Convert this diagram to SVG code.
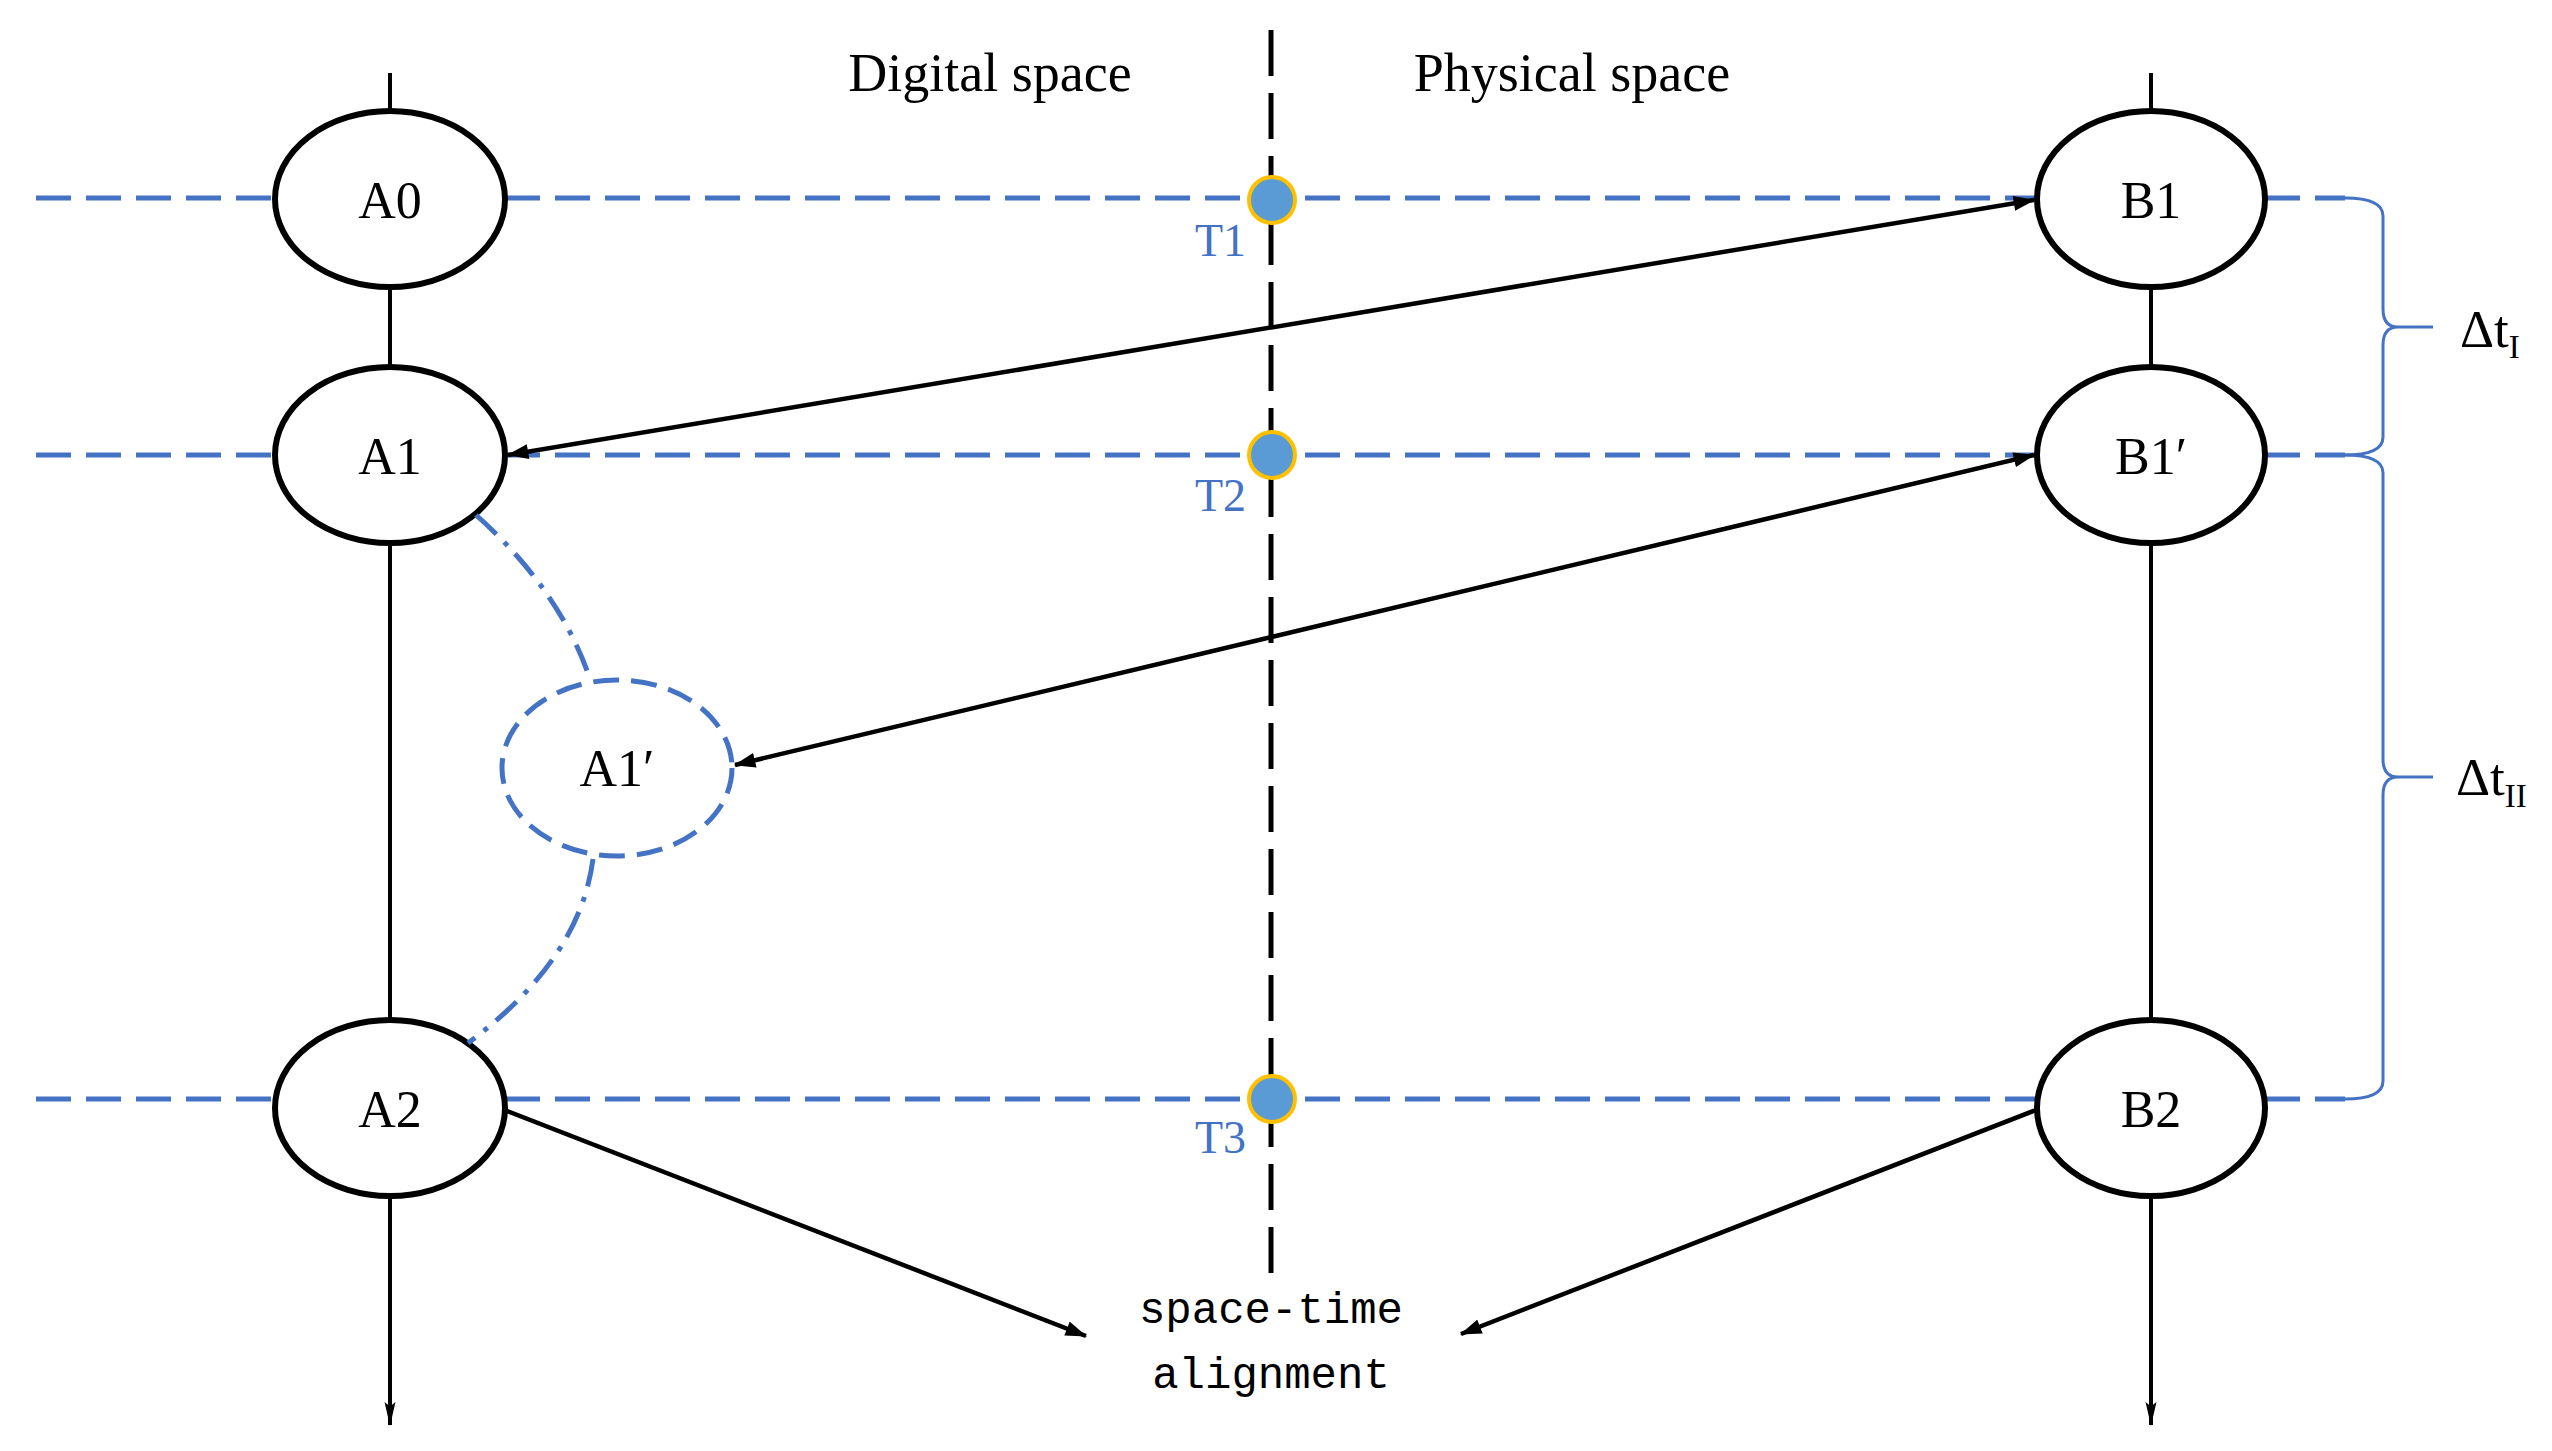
<svg xmlns="http://www.w3.org/2000/svg" width="2552" height="1451" viewBox="0 0 2552 1451">
<style>
.bg{fill:#ffffff}
.hd{stroke:#4472C4;stroke-width:5;stroke-dasharray:35 15;fill:none}
.cl{stroke:#000;stroke-width:5;stroke-dasharray:46 17;fill:none}
.ax{stroke:#000;stroke-width:4;fill:none}
.nd{fill:#fff;stroke:#000;stroke-width:6}
.nd2{fill:#fff;stroke:#4472C4;stroke-width:5;stroke-dasharray:26 12}
.dd{stroke:#4472C4;stroke-width:5;stroke-dasharray:28 11 5 11;fill:none}
.ar{stroke:#000;stroke-width:4.5;fill:none}
.dot{fill:#5B9BD5;stroke:#FFC000;stroke-width:4}
.br{stroke:#4472C4;stroke-width:3;fill:none}
.lb{font-family:"Liberation Serif","Times New Roman",serif;font-size:52px;fill:#000;text-anchor:middle}
.tl{font-family:"Liberation Serif","Times New Roman",serif;font-size:46px;fill:#4472C4;text-anchor:end}
.dt{font-family:"Liberation Serif","Times New Roman",serif;font-size:53px;fill:#000}
.mo{font-family:"Liberation Mono","DejaVu Sans Mono",monospace;font-size:44px;fill:#000;text-anchor:middle}
</style>
<defs>
<marker id="ah" viewBox="0 0 20 14" refX="19" refY="7" markerWidth="22" markerHeight="15" markerUnits="userSpaceOnUse" orient="auto-start-reverse"><path d="M0,0 L20,7 L0,14 z" fill="#000"/></marker>
<marker id="av" viewBox="0 0 22 10" refX="21" refY="5" markerWidth="24" markerHeight="12" markerUnits="userSpaceOnUse" orient="auto"><path d="M0,0 L22,5 L0,10 L4,5 z" fill="#000"/></marker>
</defs>
<rect class="bg" x="0" y="0" width="2552" height="1451"/>

<g id="guides">
<line class="hd" x1="36" y1="198" x2="276" y2="198"/>
<line class="hd" x1="505" y1="198" x2="2037" y2="198"/>
<line class="hd" x1="2265" y1="198" x2="2345" y2="198"/>
<line class="hd" x1="36" y1="455" x2="276" y2="455"/>
<line class="hd" x1="505" y1="455" x2="2037" y2="455"/>
<line class="hd" x1="2265" y1="455" x2="2345" y2="455"/>
<line class="hd" x1="36" y1="1099" x2="276" y2="1099"/>
<line class="hd" x1="505" y1="1099" x2="2037" y2="1099"/>
<line class="hd" x1="2265" y1="1099" x2="2345" y2="1099"/>
<line class="cl" x1="1271" y1="30" x2="1271" y2="1286"/>
</g>

<g id="timelines">
<line class="ax" x1="390" y1="73" x2="390" y2="111"/>
<line class="ax" x1="390" y1="287" x2="390" y2="367"/>
<line class="ax" x1="390" y1="543" x2="390" y2="1020"/>
<line class="ax" x1="390" y1="1196" x2="390" y2="1425" marker-end="url(#av)"/>
<line class="ax" x1="2151" y1="73" x2="2151" y2="111"/>
<line class="ax" x1="2151" y1="287" x2="2151" y2="367"/>
<line class="ax" x1="2151" y1="543" x2="2151" y2="1020"/>
<line class="ax" x1="2151" y1="1196" x2="2151" y2="1425" marker-end="url(#av)"/>
</g>

<g id="T1"><circle class="dot" cx="1272" cy="200" r="23"/><text class="tl" x="1246" y="256">T1</text></g>
<g id="T2"><circle class="dot" cx="1272" cy="455" r="23"/><text class="tl" x="1246" y="511">T2</text></g>
<g id="T3"><circle class="dot" cx="1272" cy="1099" r="23"/><text class="tl" x="1246" y="1153">T3</text></g>

<g id="A0"><ellipse class="nd" cx="390" cy="199" rx="115" ry="88"/><text class="lb" x="390" y="218">A0</text></g>
<g id="A1"><ellipse class="nd" cx="390" cy="455" rx="115" ry="88"/><text class="lb" x="390" y="474">A1</text></g>
<g id="A2"><ellipse class="nd" cx="390" cy="1108" rx="115" ry="88"/><text class="lb" x="390" y="1127">A2</text></g>
<g id="A1p"><ellipse class="nd2" cx="617" cy="768" rx="115" ry="88"/><text class="lb" x="617" y="786">A1′</text></g>
<g id="B1"><ellipse class="nd" cx="2151" cy="199" rx="114" ry="88"/><text class="lb" x="2151" y="218">B1</text></g>
<g id="B1p"><ellipse class="nd" cx="2151" cy="455" rx="114" ry="88"/><text class="lb" x="2151" y="474">B1′</text></g>
<g id="B2"><ellipse class="nd" cx="2151" cy="1108" rx="114" ry="88"/><text class="lb" x="2151" y="1127">B2</text></g>

<g id="connectors">
<path class="dd" d="M476,515 Q560,590 590,679"/>
<path class="dd" d="M593,859 Q580,960 468,1043"/>
<line class="ar" x1="508" y1="455" x2="2034" y2="200" marker-start="url(#ah)" marker-end="url(#ah)"/>
<line class="ar" x1="735" y1="765" x2="2034" y2="455" marker-start="url(#ah)" marker-end="url(#ah)"/>
<line class="ar" x1="507" y1="1111" x2="1086" y2="1336" marker-end="url(#ah)"/>
<line class="ar" x1="2036" y1="1110" x2="1461" y2="1334" marker-end="url(#ah)"/>
</g>

<g id="braces">
<path class="br" d="M2345,198 Q2383,198 2383,216 L2383,309 Q2383,327 2398,327 L2433,327 M2398,327 Q2383,327 2383,345 L2383,437 Q2383,455 2345,455"/>
<path class="br" d="M2345,455 Q2383,455 2383,473 L2383,759 Q2383,777 2398,777 L2433,777 M2398,777 Q2383,777 2383,795 L2383,1081 Q2383,1099 2345,1099"/>
</g>

<g id="labels">
<text class="lb" x="990" y="91" style="font-size:54px">Digital space</text>
<text class="lb" x="1572" y="91" style="font-size:54px">Physical space</text>
<text class="dt" x="2460" y="347">Δt<tspan font-size="33" dy="11">I</tspan></text>
<text class="dt" x="2456" y="795">Δt<tspan font-size="33" dy="12">II</tspan></text>
<text class="mo" x="1271" y="1323">space-time</text>
<text class="mo" x="1271" y="1388">alignment</text>
</g>
</svg>
